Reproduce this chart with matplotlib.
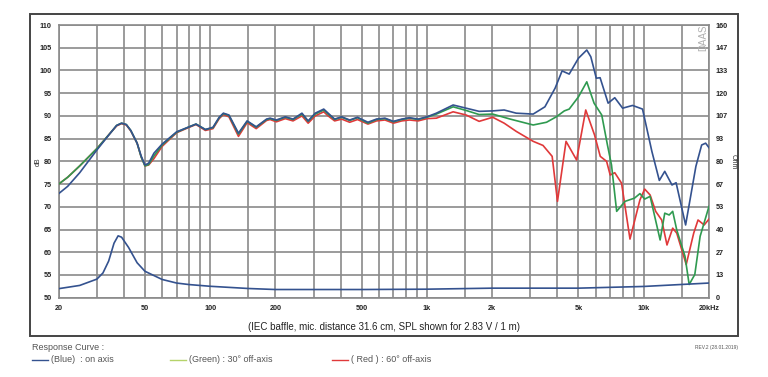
import matplotlib
matplotlib.use("Agg")
import matplotlib.pyplot as plt
from matplotlib.patches import Rectangle
from matplotlib.lines import Line2D

# ---------------- data ----------------
freq_blue = [20, 22, 25, 30, 35, 37, 39, 41, 43, 46, 48, 50, 52, 55, 60, 70, 80, 86, 95, 103, 110,
             115, 122, 135, 148, 163, 182, 189, 202, 222, 241, 265, 283, 305, 334, 350, 375, 404,
             440, 478, 534, 585, 640, 700, 765, 830, 910, 1000, 1105, 1320, 1515, 1740, 2010,
             2270, 2580, 3090, 3500, 3900, 4200, 4530, 5000, 5460, 5700, 6040, 6290, 6850, 7350,
             7990, 8880, 9870, 10900, 11800, 12500, 13500, 14100, 15600, 17400, 18500, 19300, 20000]
spl_blue = [72.9, 74.5, 77.5, 82.5, 86.5, 87.9, 88.4, 88.1, 86.8, 84.0, 81.2, 79.2, 79.6, 81.8,
            83.8, 86.5, 87.6, 88.2, 87.0, 87.5, 89.7, 90.6, 90.2, 86.2, 88.9, 87.6, 89.3, 89.5,
            89.1, 89.8, 89.3, 90.6, 88.9, 90.6, 91.5, 90.6, 89.3, 89.8, 89.1, 89.7, 88.6, 89.3,
            89.5, 88.8, 89.3, 89.6, 89.3, 89.8, 90.6, 92.4, 91.7, 91.0, 91.1, 91.3, 90.6, 90.4,
            92.0, 96.1, 99.9, 99.2, 102.7, 104.5, 103.0, 98.3, 98.4, 92.8, 94.0, 91.7, 92.3,
            91.5, 82.2, 75.8, 77.8, 74.8, 75.3, 66.0, 78.9, 83.6, 84.0, 83.0]

freq_green = [20, 22, 25, 30, 35, 37, 39, 41, 43, 46, 48, 50, 52, 55, 60, 70, 80, 86, 95, 103, 110,
              115, 122, 135, 148, 163, 182, 189, 202, 222, 241, 265, 283, 305, 334, 350, 375, 404,
              440, 478, 534, 585, 640, 700, 765, 830, 910, 1000, 1105, 1320, 1515, 1740, 2010,
              2420, 3090, 3560, 3950, 4300, 4530, 5000, 5460, 5900, 6400, 6800, 7100, 7500, 8200,
              9060, 9600, 10100, 10700, 11900, 12500, 13100, 13600, 14200, 15500, 16200,
              17200, 18200, 20000]
spl_green = [75.0, 76.5, 79.0, 82.8, 86.5, 87.9, 88.4, 88.1, 86.8, 84.0, 81.0, 79.0, 79.3, 81.2,
             83.6, 86.4, 87.6, 88.2, 87.0, 87.4, 89.6, 90.5, 90.1, 86.0, 88.8, 87.5, 89.2, 89.4,
             89.0, 89.7, 89.2, 90.4, 88.8, 90.4, 91.3, 90.4, 89.2, 89.7, 89.0, 89.6, 88.4, 89.2,
             89.4, 88.7, 89.2, 89.5, 89.2, 89.7, 90.4, 92.0, 91.2, 90.3, 90.4, 89.3, 88.0, 88.6,
             89.8, 91.1, 91.5, 94.2, 97.5, 92.8, 90.2, 83.6, 79.2, 69.0, 71.2, 71.9, 72.9, 71.7,
             72.3, 62.7, 68.6, 68.2, 69.0, 64.9, 59.1, 52.9, 55.1, 63.5, 70.1]

freq_red = [20, 22, 25, 30, 35, 37, 39, 41, 43, 46, 48, 50, 52, 55, 60, 70, 80, 86, 95, 103, 110,
            115, 122, 135, 148, 163, 182, 189, 202, 222, 241, 265, 283, 305, 334, 350, 375, 404,
            440, 478, 534, 585, 640, 700, 765, 830, 910, 1000, 1105, 1320, 1515, 1740, 2010,
            2270, 2580, 3090, 3430, 3780, 4000, 4380, 4900, 5400, 5930, 6300, 6740, 7000, 7350,
            7900, 8640, 9600, 10100, 10700, 11350, 12100, 12800, 13600, 14200, 15700,
            17000, 17800, 19000, 20000]
spl_red = [75.0, 76.5, 79.0, 82.8, 86.5, 87.8, 88.3, 88.0, 86.7, 84.0, 81.0, 79.0, 79.2, 80.6,
           83.3, 86.3, 87.5, 88.1, 86.8, 87.2, 89.4, 90.3, 89.8, 85.5, 88.5, 87.2, 89.0, 89.2,
           88.7, 89.4, 88.9, 90.0, 88.4, 90.0, 90.9, 90.0, 88.9, 89.3, 88.6, 89.2, 88.2, 88.9,
           89.1, 88.4, 88.9, 89.1, 88.9, 89.4, 89.5, 90.9, 90.2, 88.8, 89.7, 88.4, 86.6, 84.4,
           83.5, 81.1, 71.2, 84.4, 80.3, 91.3, 85.8, 81.1, 80.0, 77.0, 77.5, 75.2, 62.9, 71.5,
           73.9, 72.6, 69.0, 67.1, 61.6, 65.3, 64.2, 57.3, 64.2, 67.1, 66.0, 67.3]

freq_imp = [20, 25, 30, 32, 34, 36, 37.6, 39, 42, 46, 50, 60, 70, 80, 100, 150, 200, 500, 1000,
            2000, 5000, 10000, 20000]
imp_ohm = [5.3, 7.2, 10.9, 14.5, 21.5, 32.0, 36.3, 35.5, 29.5, 20.5, 15.5, 10.7, 8.6, 7.7, 6.7,
           5.4, 4.8, 4.8, 5.0, 5.6, 5.6, 6.6, 8.6]

x_ticks = [20, 50, 100, 200, 500, 1000, 2000, 5000, 10000, 20000]
x_tick_labels = ["20", "50", "100", "200", "500", "1k", "2k", "5k", "10k", "20kHz"]
x_grid = [20, 30, 40, 50, 60, 70, 80, 90, 100, 150, 200, 300, 400, 500, 600, 700, 800, 900,
          1000, 1500, 2000, 3000, 4000, 5000, 6000, 7000, 8000, 9000, 10000, 15000, 20000]
db_ticks = [50, 55, 60, 65, 70, 75, 80, 85, 90, 95, 100, 105, 110]
ohm_labels = ["0", "13", "27", "40", "53", "67", "80", "93", "107", "120", "133", "147", "160"]

# ---------------- figure ----------------
W, H = 768, 377
fig = plt.figure(figsize=(W / 100, H / 100), dpi=100)
plt.rcParams['font.family'] = ['Liberation Sans', 'DejaVu Sans']

def fx(px):
    return px / W

def fy(py):
    return 1 - py / H

ax_l, ax_r, ax_t, ax_b = 58.7, 709, 25, 297.7
ax = fig.add_axes([fx(ax_l), fy(ax_b), fx(ax_r - ax_l), fy(ax_t) - fy(ax_b)])
ax.set_xscale("log")
ax.set_xlim(20, 20000)
ax.set_ylim(50, 110)

gridc = "#8a8a8a"
for f in x_grid:
    ax.axvline(f, color=gridc, lw=1.2, zorder=1)
for d in db_ticks:
    ax.axhline(d, color=gridc, lw=1.2, zorder=1)
for s in ax.spines.values():
    s.set_color(gridc)
    s.set_linewidth(1.2)

ax.set_xticks(x_ticks)
ax.set_xticklabels(x_tick_labels)
ax.xaxis.set_minor_locator(matplotlib.ticker.NullLocator())
ax.set_yticks(db_ticks)
ax.tick_params(axis="both", length=0, labelsize=5.2, colors="#222222")
ax.tick_params(axis="x", pad=5)
ax.tick_params(axis="y", pad=5)
for lab in ax.get_xticklabels() + ax.get_yticklabels():
    lab.set_fontweight("bold")

c_blue = "#34528f"
c_green = "#2f9a50"
c_red = "#e0393a"

ax.plot(freq_red, spl_red, color=c_red, lw=1.2, zorder=3, solid_joinstyle="round")
ax.plot(freq_green, spl_green, color=c_green, lw=1.2, zorder=4, solid_joinstyle="round")
ax.plot(freq_blue, spl_blue, color=c_blue, lw=1.2, zorder=5, solid_joinstyle="round")

ax2 = ax.twinx()
ax2.set_ylim(0, 160)
ax2.set_yticks([i * 160 / 12 for i in range(13)])
ax2.set_yticklabels(ohm_labels)
ax2.tick_params(axis="y", length=0, labelsize=5.2, colors="#222222", pad=5)
for lab in ax2.get_yticklabels():
    lab.set_fontweight("bold")
for s in ax2.spines.values():
    s.set_visible(False)
ax2.plot(freq_imp, imp_ohm, color=c_blue, lw=1.2, zorder=5, solid_joinstyle="round")

fig.text(fx(38), fy(162), "dB", rotation=90, fontsize=5, ha="center", va="center", color="#333333")
fig.text(fx(733), fy(162), "Ohm", rotation=-90, fontsize=5, ha="center", va="center", color="#333333")
fig.text(fx(703), fy(38), "DAAS", rotation=90, fontsize=7, ha="center", va="center", color="#b0b0b0")

# outer frame
fig.patches.append(Rectangle((fx(30), fy(336)), fx(738 - 30), fy(14) - fy(336),
                             transform=fig.transFigure, fill=False, edgecolor="#444444", lw=1.4))

fig.text(fx(384), fy(327), "(IEC baffle, mic. distance 31.6 cm, SPL shown for 2.83 V / 1 m)",
         fontsize=7, ha="center", va="center", color="#222222")

tc = "#555555"
fig.text(fx(32), fy(347), "Response Curve :", fontsize=6.5, ha="left", va="center", color=tc)
entries = [(32, c_blue, "(Blue)  : on axis"), (170, "#b5d36a", "(Green) : 30\u00b0 off-axis"),
           (332, c_red, "( Red ) : 60\u00b0 off-axis")]
for x0, c, t in entries:
    fig.lines.append(Line2D([fx(x0), fx(x0 + 16)], [fy(360), fy(360)], transform=fig.transFigure,
                            color=c, lw=1.0))
    fig.text(fx(x0 + 19), fy(360), t, fontsize=6.5, ha="left", va="center", color=tc)

fig.text(fx(738), fy(348), "REV.2 (28.01.2019)", fontsize=3.5, ha="right", va="center", color=tc)

fig.savefig("out.png", dpi=100)
